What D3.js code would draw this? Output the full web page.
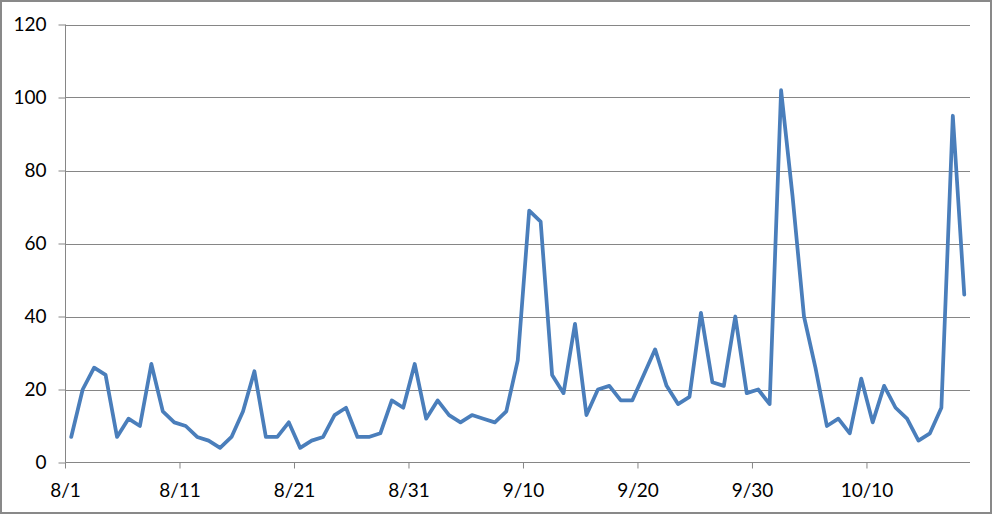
<!DOCTYPE html>
<html><head><meta charset="utf-8">
<script src="https://cdn.jsdelivr.net/npm/d3@7"></script>
<style>
html,body{margin:0;padding:0;background:#fff;}
svg{display:block;}
svg text{font-family:Lato,"Open Sans",sans-serif;font-size:19px;fill:#000;}
</style></head>
<body>
<svg id="chart" width="993" height="516"></svg>
<script>
const dates = (() => {
  const out = [];
  for (let i = 0; i < 79; i++) {
    const d = new Date(2000, 7, 1 + i);
    out.push((d.getMonth() + 1) + "/" + d.getDate());
  }
  return out;
})();
const values = [
  7, 20, 26, 24, 7, 12, 10, 27, 14, 11,
  10, 7, 6, 4, 7, 14, 25, 7, 7, 11,
  4, 6, 7, 13, 15, 7, 7, 8, 17, 15,
  27, 12, 17, 13, 11, 13, 12, 11, 14, 28,
  69, 66, 24, 19, 38, 13, 20, 21, 17, 17,
  24, 31, 21, 16, 18, 41, 22, 21, 40, 19,
  20, 16, 102, 73, 40, 26, 10, 12, 8, 23,
  11, 21, 15, 12, 6, 8, 15, 95, 46
];
const xTickLabels = ["8/1", "8/11", "8/21", "8/31", "9/10", "9/20", "9/30", "10/10"];
const yTicks = [0, 20, 40, 60, 80, 100, 120];

const svg = d3.select("#chart");
const W = 993, H = 516;
const mLeft = 65.5, mRight = 970, mTop = 24.5, mBottom = 462.5;

// outer frame
svg.append("rect").attr("x", 1).attr("y", 1).attr("width", W - 3).attr("height", H - 4)
  .attr("fill", "#fff").attr("stroke", "#898989").attr("stroke-width", 2);

const x = d3.scaleBand().domain(dates).range([mLeft, mRight]).padding(0);
const y = d3.scaleLinear().domain([0, 120]).range([mBottom, mTop]);

// gridlines
svg.append("g").selectAll("line").data(yTicks.filter(v => v > 0)).join("line")
  .attr("x1", mLeft).attr("x2", mRight)
  .attr("y1", d => Math.round(y(d)) + 0.5).attr("y2", d => Math.round(y(d)) + 0.5)
  .attr("stroke", "#868686").attr("stroke-width", 1);

// y axis
const yAxis = svg.append("g").attr("transform", `translate(${mLeft},0)`)
  .call(d3.axisLeft(y).tickValues(yTicks).tickSize(7).tickPadding(12).tickFormat(d3.format("d")));
yAxis.attr("font-size", null).attr("font-family", null);
yAxis.select(".domain").attr("stroke", "#868686").attr("d", `M0,${mTop}V${mBottom}`);
yAxis.selectAll(".tick line").attr("stroke", "#868686");
yAxis.selectAll(".tick text").style("font-size", "19px").attr("fill", "#000");

// x axis
const xAxis = svg.append("g").attr("transform", `translate(0,${mBottom})`)
  .call(d3.axisBottom(x).tickValues(xTickLabels).tickSize(6).tickPadding(15));
xAxis.attr("font-size", null).attr("font-family", null);
xAxis.select(".domain").attr("stroke", "#868686").attr("d", `M${mLeft},0H${mRight}`);
xAxis.selectAll(".tick").attr("transform", d => `translate(${x(d)},0)`);
xAxis.selectAll(".tick line").attr("stroke", "#868686");
xAxis.selectAll(".tick text").style("font-size", "19px").attr("fill", "#000");

// line
const line = d3.line()
  .x((d, i) => x(dates[i]) + x.bandwidth() / 2)
  .y(d => y(d));
svg.append("path").datum(values).attr("d", line)
  .attr("fill", "none").attr("stroke", "#4a7ebb").attr("stroke-width", 3.75)
  .attr("stroke-linejoin", "round").attr("stroke-linecap", "round");
</script>
</body></html>
